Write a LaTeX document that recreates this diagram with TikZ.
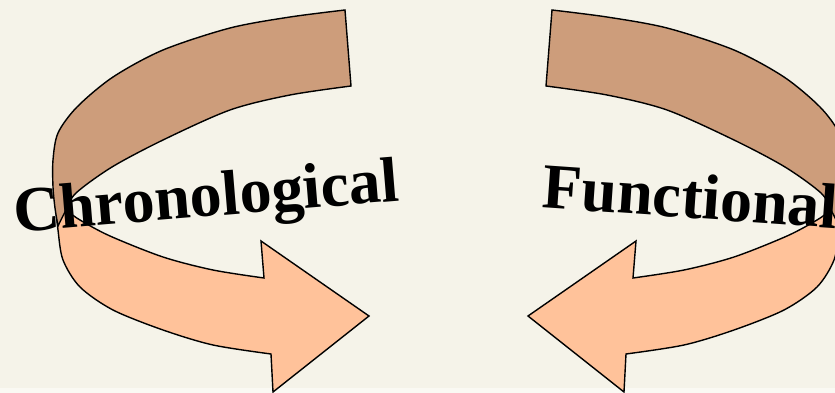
\documentclass[tikz,border=0pt]{standalone}
\usepackage{fontspec}
\setmainfont{Liberation Serif}
\usepackage{tikz}
\definecolor{creambg}{RGB}{245,243,233}
\definecolor{creamstrip}{RGB}{250,249,243}
\definecolor{backtan}{RGB}{205,157,123}
\definecolor{frontpeach}{RGB}{255,194,154}
\tikzset{
  ribbon/.style={draw=black, line width=1.4pt, line join=miter},
  back/.style={ribbon, fill=backtan},
  front/.style={ribbon, fill=frontpeach},
  word/.style={font=\fontsize{64}{64}\selectfont\bfseries, anchor=base, inner sep=0pt, text=black},
}
\begin{document}
\begin{tikzpicture}[x=1pt,y=-1pt]
  % canvas
  \fill[creambg] (0,0) rectangle (835,393);
  \fill[creamstrip] (0,388) rectangle (835,393);
  \useasboundingbox (0,0) rectangle (835,393);
  % curled arrows, the right one mirrored
  \foreach \s/\m in {1/0,-1/897}{
    \begin{scope}[shift={(\m,0)},xscale=\s]
      \path[front] plot[smooth] coordinates {(55,200) (58,230) (63,260) (80,287) (113,310) (163,330) (213,345) (271,354)}
        -- (273,392) -- (369,316) -- (261,241) -- (264,278)
        -- plot[smooth] coordinates {(264,278) (213,270) (163,257) (110,236) (80,220) (66,210)} -- cycle;
      \path[back] plot[smooth] coordinates {(345,10) (290,17) (230,28) (163,50) (113,77) (77,107) (58,133) (53,160) (53,187) (55,208) (58,226)}
        -- plot[smooth] coordinates {(58,226) (66,210) (76,193) (112,167) (163,140) (230,110) (290,95) (351,86)} -- cycle;
    \end{scope}
  }
  % labels
  \node[word, rotate=4.7] (chrono) at (208,216.5) {Chronological};
  \node[word, rotate=-4] (func) at (689,218) {Functional};
\end{tikzpicture}
\end{document}
